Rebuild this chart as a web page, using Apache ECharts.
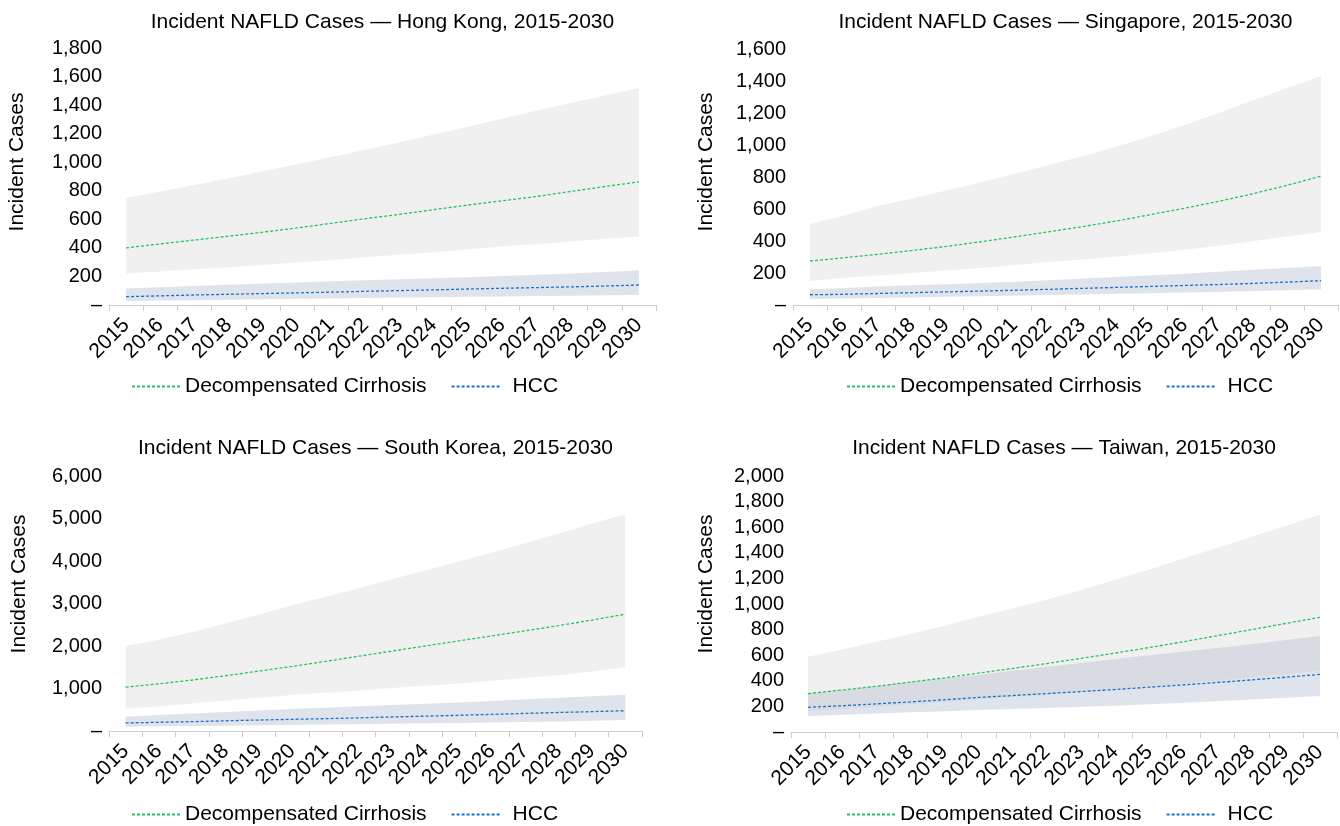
<!DOCTYPE html>
<html>
<head>
<meta charset="utf-8">
<script src="https://cdn.jsdelivr.net/npm/echarts@6/dist/echarts.min.js"></script>
<style>
html,body{margin:0;padding:0;background:#fff;}
#chart{width:1340px;height:826px;}
</style>
</head>
<body>
<div id="chart"></div>
<script>
// ---------- DATA ----------
const years = ['2015','2016','2017','2018','2019','2020','2021','2022','2023','2024','2025','2026','2027','2028','2029','2030'];
const titles = [
  'Incident NAFLD Cases \u2014 Hong Kong, 2015-2030',
  'Incident NAFLD Cases \u2014 Singapore, 2015-2030',
  'Incident NAFLD Cases \u2014 South Korea, 2015-2030',
  'Incident NAFLD Cases \u2014 Taiwan, 2015-2030'
];
const seriesNames = ['Decompensated Cirrhosis', 'HCC'];
const yMax = [1800, 1600, 6000, 2000];
const yStep = [200, 200, 1000, 200];

// Hong Kong
const hkDcMean = [400, 428, 455, 482, 510, 540, 572, 605, 635, 668, 700, 730, 760, 795, 830, 862];
const hkDcLow  = [220, 235, 250, 265, 280, 297, 315, 335, 352, 370, 390, 410, 428, 445, 462, 480];
const hkDcHigh = [750, 795, 840, 888, 937, 985, 1037, 1088, 1140, 1195, 1248, 1305, 1360, 1415, 1468, 1520];
const hkHccMean = [58, 64, 70, 75, 80, 85, 90, 96, 101, 106, 112, 117, 122, 127, 133, 140];
const hkHccLow  = [28, 31, 34, 37, 40, 43, 46, 49, 52, 55, 57, 60, 63, 65, 68, 70];
const hkHccHigh = [115, 125, 133, 142, 150, 158, 166, 173, 180, 188, 195, 203, 211, 220, 232, 244];

// Singapore
const sgDcMean = [275, 295, 317, 341, 366, 395, 425, 457, 490, 525, 565, 605, 648, 695, 748, 805];
const sgDcLow  = [150, 168, 185, 200, 215, 232, 250, 268, 285, 303, 323, 345, 370, 398, 428, 456];
const sgDcHigh = [506, 560, 618, 665, 715, 765, 818, 875, 930, 990, 1055, 1125, 1200, 1280, 1355, 1432];
const sgHccMean = [64, 67, 72, 77, 82, 87, 92, 98, 104, 110, 116, 122, 128, 135, 143, 152];
const sgHccLow  = [37, 40, 44, 47, 51, 55, 58, 62, 66, 70, 74, 78, 82, 87, 92, 98];
const sgHccHigh = [98, 107, 116, 124, 130, 137, 145, 155, 165, 175, 186, 196, 208, 220, 232, 244];

// South Korea
const krDcMean = [1030, 1110, 1200, 1300, 1410, 1520, 1640, 1760, 1880, 2000, 2120, 2240, 2360, 2480, 2610, 2750];
const krDcLow  = [525, 585, 650, 715, 780, 847, 900, 955, 1010, 1065, 1120, 1180, 1245, 1310, 1400, 1498];
const krDcHigh = [2000, 2150, 2330, 2530, 2740, 2960, 3160, 3360, 3570, 3780, 3990, 4200, 4420, 4650, 4880, 5100];
const krHccMean = [190, 205, 220, 240, 258, 275, 290, 310, 330, 350, 370, 390, 415, 435, 455, 478];
const krHccLow  = [102, 110, 118, 126, 134, 143, 152, 160, 170, 180, 190, 200, 212, 224, 240, 259];
const krHccHigh = [337, 375, 410, 445, 480, 518, 550, 580, 610, 640, 670, 705, 745, 785, 820, 855];

// Taiwan
const twDcMean = [300, 328, 357, 390, 423, 460, 497, 535, 575, 617, 660, 705, 752, 800, 848, 896];
const twDcLow  = [164, 180, 198, 216, 235, 255, 273, 292, 312, 333, 354, 378, 402, 427, 452, 479];
const twDcHigh = [588, 645, 705, 765, 830, 900, 965, 1035, 1110, 1190, 1270, 1355, 1440, 1525, 1610, 1700];
const twHccMean = [193, 205, 220, 235, 252, 270, 285, 300, 316, 332, 350, 368, 387, 407, 428, 450];
const twHccLow  = [125, 135, 145, 154, 163, 172, 180, 188, 197, 206, 216, 228, 240, 253, 267, 281];
const twHccHigh = [302, 330, 360, 390, 418, 445, 478, 510, 540, 570, 600, 628, 656, 685, 718, 750];

const panels = [
  {dcMean: hkDcMean, dcLow: hkDcLow, dcHigh: hkDcHigh, hccMean: hkHccMean, hccLow: hkHccLow, hccHigh: hkHccHigh},
  {dcMean: sgDcMean, dcLow: sgDcLow, dcHigh: sgDcHigh, hccMean: sgHccMean, hccLow: sgHccLow, hccHigh: sgHccHigh},
  {dcMean: krDcMean, dcLow: krDcLow, dcHigh: krDcHigh, hccMean: krHccMean, hccLow: krHccLow, hccHigh: krHccHigh},
  {dcMean: twDcMean, dcLow: twDcLow, dcHigh: twDcHigh, hccMean: twHccMean, hccLow: twHccLow, hccHigh: twHccHigh}
];

// ---------- LAYOUT ----------
const FONT = 'Liberation Sans, Arial, Helvetica, sans-serif';
const gridBoxes = [
  {left: 109, top: 48, width: 547, height: 257},
  {left: 793, top: 49, width: 545, height: 256},
  {left: 109, top: 476, width: 533, height: 255},
  {left: 791, top: 476, width: 546, height: 256}
];
const titleTops = [12, 12, 438, 438];
const legendPos = [{left: 131, top: 376}, {left: 846, top: 376}, {left: 131, top: 804}, {left: 846, top: 804}];
const yNamePos = [{x: 17, y: 162}, {x: 706, y: 162}, {x: 19, y: 584}, {x: 706, y: 584}];

const GREEN = '#27c266';
const BLUE = '#1b72c8';

const option = {
  backgroundColor: '#fff',
  animation: false,
  textStyle: {fontFamily: FONT},
  title: [], legend: [], grid: [], xAxis: [], yAxis: [], series: [], graphic: []
};

panels.forEach((p, i) => {
  const g = gridBoxes[i];
  option.grid.push({left: g.left, top: g.top, width: g.width, height: g.height, containLabel: false});
  option.title.push({
    text: titles[i],
    left: g.left + g.width / 2, top: titleTops[i], textAlign: 'center', padding: 0,
    textStyle: {fontFamily: FONT, fontSize: 21, fontWeight: 'normal', color: '#000'}
  });
  option.legend.push({
    data: [
      {name: seriesNames[0]},
      {name: seriesNames[1], textStyle: {padding: [0, 0, 0, 8]}}
    ],
    left: legendPos[i].left, top: legendPos[i].top, padding: 0,
    itemWidth: 48, itemHeight: 14, itemGap: 24,
    itemStyle: {opacity: 0},
    textStyle: {fontFamily: FONT, fontSize: 21, color: '#000'}
  });
  option.xAxis.push({
    type: 'category', gridIndex: i, data: years, boundaryGap: true,
    axisLine: {show: true, lineStyle: {color: '#cfcfcf', width: 1}},
    axisTick: {show: true, length: 6, lineStyle: {color: '#cfcfcf'}},
    axisLabel: {rotate: 45, interval: 0, fontSize: 21, color: '#000', fontFamily: FONT, margin: 17},
    splitLine: {show: false}
  });
  option.yAxis.push({
    type: 'value', gridIndex: i, min: 0, max: yMax[i], interval: yStep[i],
    axisLine: {show: false}, axisTick: {show: false}, splitLine: {show: false},
    axisLabel: {
      fontSize: 20, color: '#000', fontFamily: FONT, margin: 7,
      formatter: v => v === 0 ? '\u2013' : v.toLocaleString('en-US')
    }
  });
  const hccWidth = p.hccHigh.map((v, k) => v - p.hccLow[k]);
  const dcWidth = p.dcHigh.map((v, k) => v - p.dcLow[k]);
  const base = {type: 'line', xAxisIndex: i, yAxisIndex: i, symbol: 'none', showSymbol: false, silent: true};
  option.series.push(
    Object.assign({}, base, {name: 'hccLow' + i, data: p.hccLow, stack: 'hcc' + i, lineStyle: {opacity: 0}, z: 1}),
    Object.assign({}, base, {name: 'hccBand' + i, data: hccWidth, stack: 'hcc' + i, lineStyle: {opacity: 0},
      areaStyle: {color: '#dfe4ec', opacity: 1}, z: 1}),
    Object.assign({}, base, {name: 'dcLow' + i, data: p.dcLow, stack: 'dc' + i, lineStyle: {opacity: 0}, z: 2}),
    Object.assign({}, base, {name: 'dcBand' + i, data: dcWidth, stack: 'dc' + i, lineStyle: {opacity: 0},
      areaStyle: {color: 'rgba(196,196,196,0.25)', opacity: 1}, z: 2}),
    Object.assign({}, base, {name: seriesNames[0], data: p.dcMean, z: 5,
      lineStyle: {color: GREEN, width: 1.3, type: [3, 2]}, itemStyle: {color: GREEN}}),
    Object.assign({}, base, {name: seriesNames[1], data: p.hccMean, z: 5,
      lineStyle: {color: BLUE, width: 1.3, type: [3, 2]}, itemStyle: {color: BLUE}})
  );
  option.graphic.push({
    type: 'text', x: yNamePos[i].x, y: yNamePos[i].y, rotation: Math.PI / 2,
    style: {text: 'Incident Cases', fontFamily: FONT, fontSize: 21, fill: '#000', align: 'center', verticalAlign: 'middle'}
  });
});

const chart = echarts.init(document.getElementById('chart'), null, {renderer: 'canvas'});
chart.setOption(option);
</script>
</body>
</html>
